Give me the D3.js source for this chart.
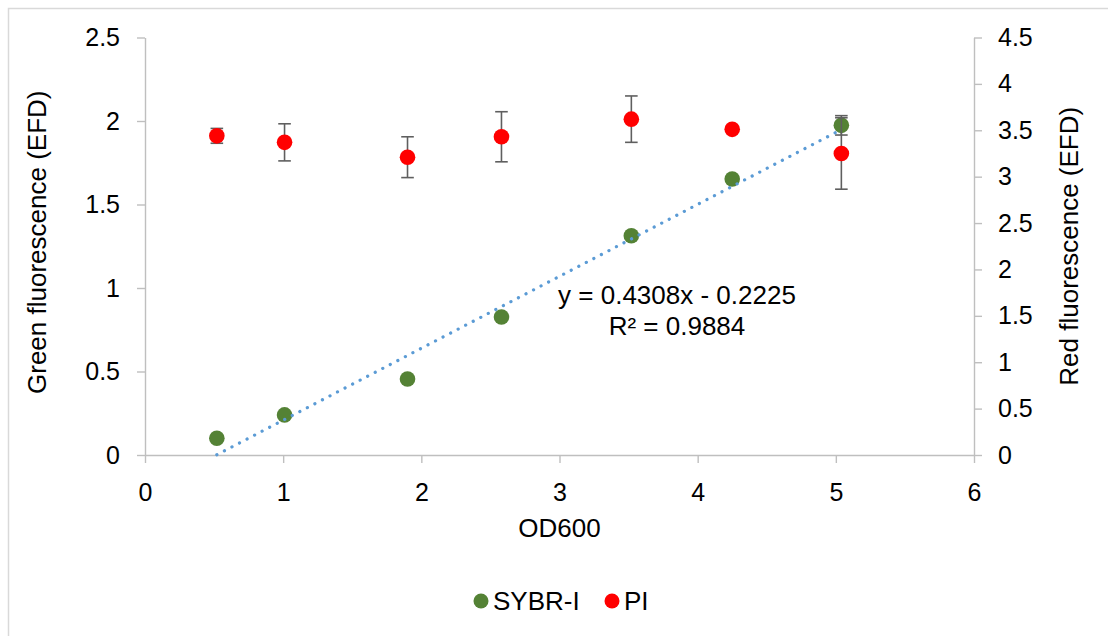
<!DOCTYPE html>
<html>
<head>
<meta charset="utf-8">
<script src="https://cdn.jsdelivr.net/npm/d3@7"></script>
<style>
  html, body { margin: 0; padding: 0; background: #fff; }
  svg { display: block; font-family: "Liberation Sans", Arial, sans-serif; }
</style>
</head>
<body>
<svg id="chart" width="1108" height="636"></svg>
<script>
// Optical density at 600 nm for each sample
const od600 = [0.52, 1.01, 1.90, 2.58, 3.52, 4.25, 5.04];
// SYBR-I green fluorescence (EFD), left axis
const sybrValues = [0.10, 0.24, 0.455, 0.826, 1.313, 1.653, 1.974];
const sybrErrors = [0, 0, 0, 0, 0, 0, 0.058];
// PI red fluorescence (EFD), right axis
const piValues = [3.44, 3.37, 3.21, 3.43, 3.62, 3.51, 3.25];
const piErrors = [0.08, 0.20, 0.22, 0.27, 0.25, 0, 0.385];
// Linear fit of the SYBR-I series
const fitSlope = 0.4308;
const fitIntercept = -0.2225;
const fitR2 = 0.9884;
// Tick labels
const xTicks = [0, 1, 2, 3, 4, 5, 6];
const leftTicks = [0, 0.5, 1, 1.5, 2, 2.5];
const rightTicks = [0, 0.5, 1, 1.5, 2, 2.5, 3, 3.5, 4, 4.5];
const seriesNames = ["SYBR-I", "PI"];
const seriesColors = ["#548235", "#ff0000"];

const svg = d3.select("#chart");
const W = 1108, H = 636;
const plot = { left: 145, right: 974, top: 37.5, bottom: 455 };
const fontSize = 25;
const labelSize = 26;
const axisColor = "#bfbfbf";
const errColor = "#5f5f5f";
const markerR = 7.8;

// outer chart frame
svg.append("rect")
  .attr("x", 8.5).attr("y", 8.5)
  .attr("width", W + 20).attr("height", H + 20)
  .attr("fill", "#fff").attr("stroke", "#d9d9d9").attr("stroke-width", 1.5);

const x = d3.scaleLinear().domain([0, 6]).range([plot.left, plot.right]);
const yL = d3.scaleLinear().domain([0, 2.5]).range([plot.bottom, plot.top]);
const yR = d3.scaleLinear().domain([0, 4.5]).range([plot.bottom, plot.top]);
const fmt = d => String(d);

function styleAxis(g) {
  g.select(".domain").attr("stroke", axisColor).attr("stroke-width", 1.4);
  g.selectAll(".tick line").attr("stroke", axisColor).attr("stroke-width", 1.4);
  g.selectAll(".tick text").attr("fill", "#000").attr("font-size", fontSize)
    .attr("font-family", "Liberation Sans, Arial, sans-serif");
}

svg.append("g")
  .attr("transform", `translate(0,${plot.bottom})`)
  .call(d3.axisBottom(x).tickValues(xTicks).tickFormat(fmt).tickSize(8).tickSizeOuter(0).tickPadding(20))
  .call(styleAxis);

svg.append("g")
  .attr("transform", `translate(${plot.left},0)`)
  .call(d3.axisLeft(yL).tickValues(leftTicks).tickFormat(fmt).tickSize(8).tickSizeOuter(0).tickPadding(17))
  .call(styleAxis);

svg.append("g")
  .attr("transform", `translate(${plot.right},0)`)
  .call(d3.axisRight(yR).tickValues(rightTicks).tickFormat(fmt).tickSize(8).tickSizeOuter(0).tickPadding(16))
  .call(styleAxis);

// axis titles
svg.append("text")
  .attr("x", (plot.left + plot.right) / 2).attr("y", 537)
  .attr("text-anchor", "middle").attr("font-size", labelSize).text("OD600");

svg.append("text")
  .attr("transform", `translate(46,${(plot.top + plot.bottom) / 2 - 4}) rotate(-90)`)
  .attr("text-anchor", "middle").attr("font-size", labelSize).text("Green fluorescence (EFD)");

svg.append("text")
  .attr("transform", `translate(1078,${(plot.top + plot.bottom) / 2}) rotate(-90)`)
  .attr("text-anchor", "middle").attr("font-size", labelSize).text("Red fluorescence (EFD)");

const sybr = od600.map((d, i) => ({ x: d, y: sybrValues[i], e: sybrErrors[i] }));
const pi = od600.map((d, i) => ({ x: d, y: piValues[i], e: piErrors[i] }));

function errorBars(data, yScale) {
  const g = svg.append("g").attr("stroke", errColor).attr("stroke-width", 1.6);
  data.filter(d => d.e > 0).forEach(d => {
    const cx = x(d.x), y1 = yScale(d.y + d.e), y2 = yScale(d.y - d.e);
    g.append("line").attr("x1", cx).attr("x2", cx).attr("y1", y1).attr("y2", y2);
    g.append("line").attr("x1", cx - 6.3).attr("x2", cx + 6.3).attr("y1", y1).attr("y2", y1);
    g.append("line").attr("x1", cx - 6.3).attr("x2", cx + 6.3).attr("y1", y2).attr("y2", y2);
  });
}

// SYBR-I series
errorBars(sybr, yL);
svg.append("g").selectAll("circle").data(sybr).join("circle")
  .attr("cx", d => x(d.x)).attr("cy", d => yL(d.y)).attr("r", markerR)
  .attr("fill", seriesColors[0]);

// dotted linear trendline across the data range
const xMin = d3.min(od600), xMax = d3.max(od600);
svg.append("line")
  .attr("x1", x(xMin)).attr("y1", yL(fitSlope * xMin + fitIntercept))
  .attr("x2", x(xMax)).attr("y2", yL(fitSlope * xMax + fitIntercept))
  .attr("stroke", "#5b9bd5").attr("stroke-width", 3.2)
  .attr("stroke-linecap", "round").attr("stroke-dasharray", "0.1 8.4");

// PI series
errorBars(pi, yR);
svg.append("g").selectAll("circle").data(pi).join("circle")
  .attr("cx", d => x(d.x)).attr("cy", d => yR(d.y)).attr("r", markerR)
  .attr("fill", seriesColors[1]);

// trendline equation
const eq = svg.append("g").attr("font-size", labelSize).attr("text-anchor", "middle");
eq.append("text").attr("x", 677).attr("y", 304)
  .text(`y = ${fitSlope}x - ${Math.abs(fitIntercept)}`);
eq.append("text").attr("x", 677).attr("y", 335)
  .text(`R² = ${fitR2}`);

// legend
const legend = svg.append("g").attr("font-size", labelSize);
const legendItems = [{ cx: 481, tx: 493 }, { cx: 612, tx: 624 }];
legendItems.forEach((p, i) => {
  legend.append("circle").attr("cx", p.cx).attr("cy", 601).attr("r", 7.5).attr("fill", seriesColors[i]);
  legend.append("text").attr("x", p.tx).attr("y", 610).text(seriesNames[i]);
});
</script>
</body>
</html>
